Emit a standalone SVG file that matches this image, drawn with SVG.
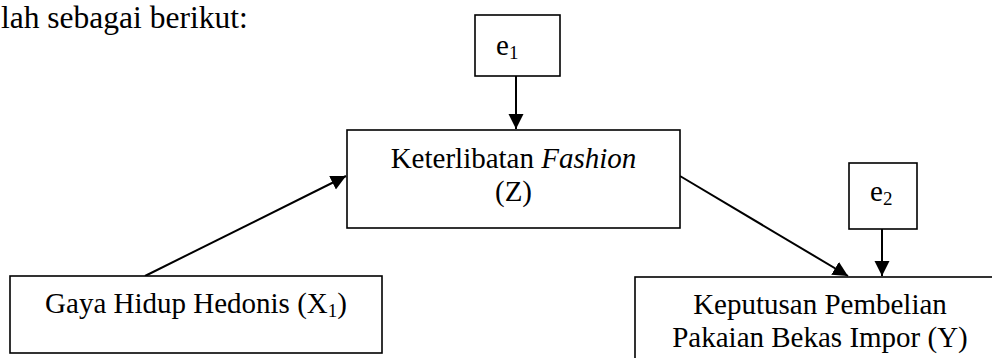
<svg xmlns="http://www.w3.org/2000/svg" width="992" height="358" viewBox="0 0 992 358">
<style>
text{font-family:"Liberation Serif","Times New Roman",serif;fill:#000;font-size:29px}
.box{fill:#fff;stroke:#000;stroke-width:1.6}
.edge{stroke:#000;stroke-width:2;fill:none}
.c{text-anchor:middle}
.sub{font-size:19px}
</style>
<defs>
<marker id="ah" markerUnits="userSpaceOnUse" markerWidth="16" markerHeight="16" refX="15" refY="7.5" orient="auto">
<path d="M0,0 L15,7.5 L0,15 z" fill="#000"/>
</marker>
</defs>
<rect width="992" height="358" fill="#fff"/>
<text x="1" y="28" style="font-size:31.5px">lah sebagai berikut:</text>
<g id="connectors">
<line class="edge" x1="516" y1="76" x2="516" y2="129" marker-end="url(#ah)"/>
<line class="edge" x1="145" y1="276" x2="346" y2="176" marker-end="url(#ah)"/>
<line class="edge" x1="680" y1="176" x2="848" y2="276" marker-end="url(#ah)"/>
<line class="edge" x1="882" y1="229" x2="882" y2="276" marker-end="url(#ah)"/>
</g>
<g id="e1">
<rect class="box" x="475" y="15" width="85" height="61"/>
<text x="496" y="55">e<tspan class="sub" dy="4">1</tspan></text>
</g>
<g id="Z">
<rect class="box" x="347" y="130" width="333" height="98"/>
<text class="c" x="513.5" y="168">Keterlibatan <tspan font-style="italic">Fashion</tspan></text>
<text class="c" x="513.5" y="201">(Z)</text>
</g>
<g id="e2">
<rect class="box" x="849" y="163" width="68" height="66"/>
<text x="870" y="201">e<tspan class="sub" dy="4">2</tspan></text>
</g>
<g id="X1">
<rect class="box" x="10" y="276" width="372" height="77"/>
<text class="c" x="196" y="313">Gaya Hidup Hedonis (X<tspan class="sub" dy="4">1</tspan><tspan dy="-4">)</tspan></text>
</g>
<g id="Y">
<rect class="box" x="635" y="277" width="372" height="100"/>
<text class="c" x="820" y="314">Keputusan Pembelian</text>
<text class="c" x="820" y="347">Pakaian Bekas Impor (Y)</text>
</g>
</svg>
